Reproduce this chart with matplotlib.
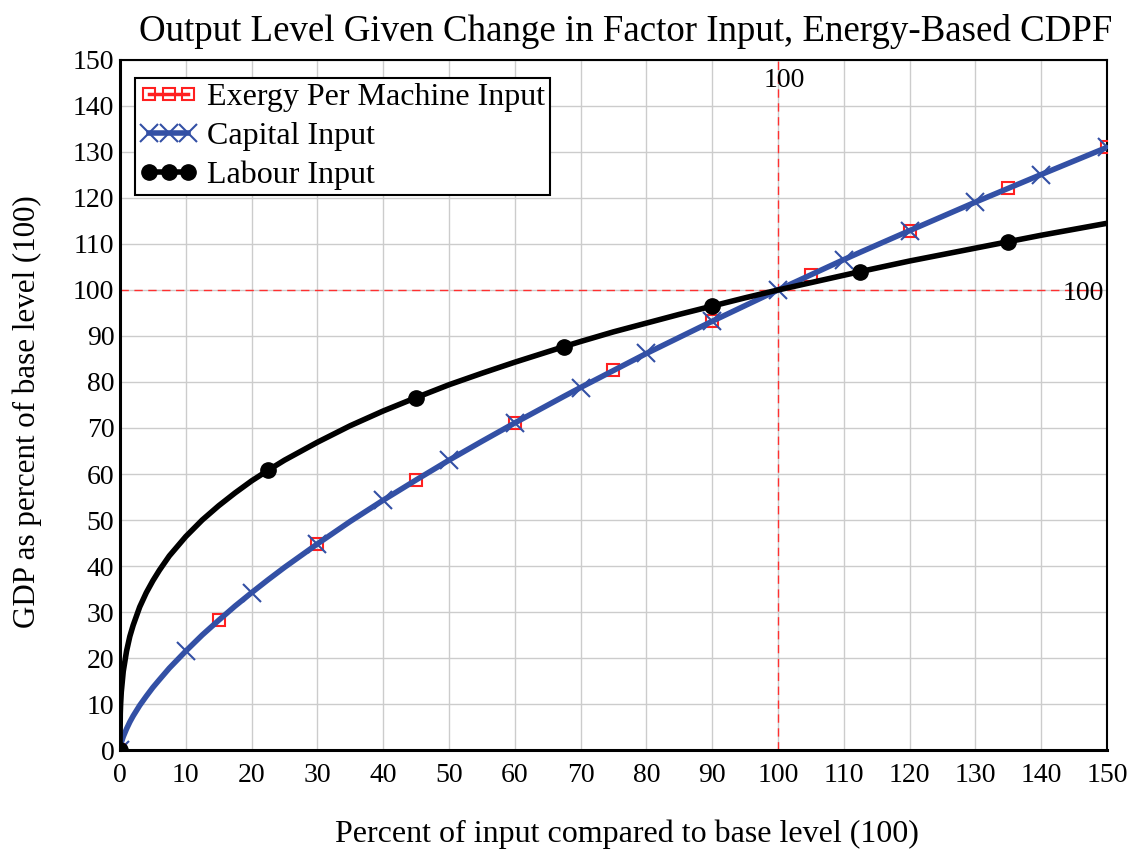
import numpy as np
import matplotlib
matplotlib.use("Agg")
import matplotlib.pyplot as plt

plt.rcParams['font.family'] = ['Liberation Serif', 'DejaVu Serif']

# Values (percent of base level)
x_input = [0, 0.05, 0.1, 0.2, 0.5, 1, 1.5, 2, 3, 4, 5, 6, 7.5, 10, 12.5, 15, 17.5, 20, 22.5, 25,
           30, 35, 40, 45, 50, 55, 60, 67.5, 70, 75, 80, 85, 90, 95, 100, 105, 110, 112.5,
           120, 130, 135, 140, 150]
gdp_exergy = [0, 0.6, 1.0, 1.6, 2.9, 4.6, 6.1, 7.4, 9.7, 11.7, 13.6, 15.3, 17.8, 21.5, 25.0, 28.2,
              31.3, 34.2, 37.0, 39.7, 44.8, 49.7, 54.3, 58.7, 63.0, 67.1, 71.1, 76.9, 78.8, 82.5,
              86.2, 89.7, 93.2, 96.6, 100, 103.3, 106.6, 108.2, 112.9, 119.1, 122.1, 125.1, 131.0]
gdp_capital = [0, 0.6, 1.0, 1.6, 2.9, 4.6, 6.1, 7.4, 9.7, 11.7, 13.6, 15.3, 17.8, 21.5, 25.0, 28.2,
               31.3, 34.2, 37.0, 39.7, 44.8, 49.7, 54.3, 58.7, 63.0, 67.1, 71.1, 76.9, 78.8, 82.5,
               86.2, 89.7, 93.2, 96.6, 100, 103.3, 106.6, 108.2, 112.9, 119.1, 122.1, 125.1, 131.0]
gdp_labour = [0, 7.9, 10.0, 12.6, 17.1, 21.5, 24.7, 27.1, 31.1, 34.2, 36.8, 39.1, 42.2, 46.4, 50.0,
              53.1, 55.9, 58.5, 60.8, 63.0, 66.9, 70.5, 73.7, 76.6, 79.4, 81.9, 84.3, 87.7, 88.8,
              90.9, 92.8, 94.7, 96.5, 98.3, 100, 101.6, 103.2, 104.0, 106.3, 109.1, 110.5, 111.9, 114.5]

# x positions where each series carries a marker
marks_exergy = [0, 15, 30, 45, 60, 75, 90, 105, 120, 135, 150]
marks_capital = [0, 10, 20, 30, 40, 50, 60, 70, 80, 90, 100, 110, 120, 130, 140, 150]
marks_labour = [0, 22.5, 45, 67.5, 90, 112.5, 135]

base = 100
ticks = list(range(0, 151, 10))


def mark_idx(marks):
    return [x_input.index(m) for m in marks]


fig = plt.figure(figsize=(11.35, 8.52), dpi=100)
ax = fig.add_axes([0.1057, 0.1197, 0.8696, 0.8099])

ax.plot(x_input, gdp_exergy, color='#ff2020', lw=2.5, marker='s', ms=9, mfc='none',
        mec='#ff2020', mew=1.5, markevery=mark_idx(marks_exergy),
        label='Exergy Per Machine Input', zorder=3)
ax.plot(x_input, gdp_capital, color='#3350a5', lw=4, marker='x', ms=13, mew=1.5,
        markevery=mark_idx(marks_capital), label='Capital Input', zorder=4)
ax.plot(x_input, gdp_labour, color='black', lw=4, marker='o', ms=11,
        markevery=mark_idx(marks_labour), label='Labour Input', zorder=5)

# base level reference lines
ax.axvline(base, color='#ff3030', lw=1, ls=(0, (6, 4)), zorder=2)
ax.axhline(base, color='#ff3030', lw=1, ls=(0, (6, 4)), zorder=2)
ax.text(base + 1, 145.5, '100', fontsize=20, ha='center', va='center')
ax.text(149.6, 99.3, '100', fontsize=20, ha='right', va='center')

ax.set_xlim(0, 150)
ax.set_ylim(0, 150)
ax.set_xticks(ticks)
ax.set_yticks(ticks)
ax.grid(True, color='#cccccc', lw=1)
ax.set_axisbelow(True)
ax.tick_params(length=0, labelsize=20)
ax.tick_params(axis='x', pad=9)
ax.tick_params(axis='y', pad=4)
for side in ['top', 'right']:
    ax.spines[side].set_linewidth(1.5)
for side in ['left', 'bottom']:
    ax.spines[side].set_linewidth(2.2)

ax.set_title('Output Level Given Change in Factor Input, Energy-Based CDPF',
             fontsize=26.6, pad=14, x=0.512)
ax.set_xlabel('Percent of input compared to base level (100)', fontsize=23)
ax.set_ylabel('GDP as percent of base level (100)', fontsize=22.3)
ax.xaxis.set_label_coords(0.514, -0.1)
ax.yaxis.set_label_coords(-0.079, 0.491)

leg = ax.legend(loc='upper left', bbox_to_anchor=(0.0152, 0.974), fontsize=23,
                numpoints=3, handlelength=1.8, handletextpad=0.3, borderpad=0.15,
                labelspacing=0.3, fancybox=False, framealpha=1, borderaxespad=0)
leg.get_frame().set_edgecolor('black')
leg.get_frame().set_linewidth(1.5)

fig.savefig('out.png', dpi=100)
